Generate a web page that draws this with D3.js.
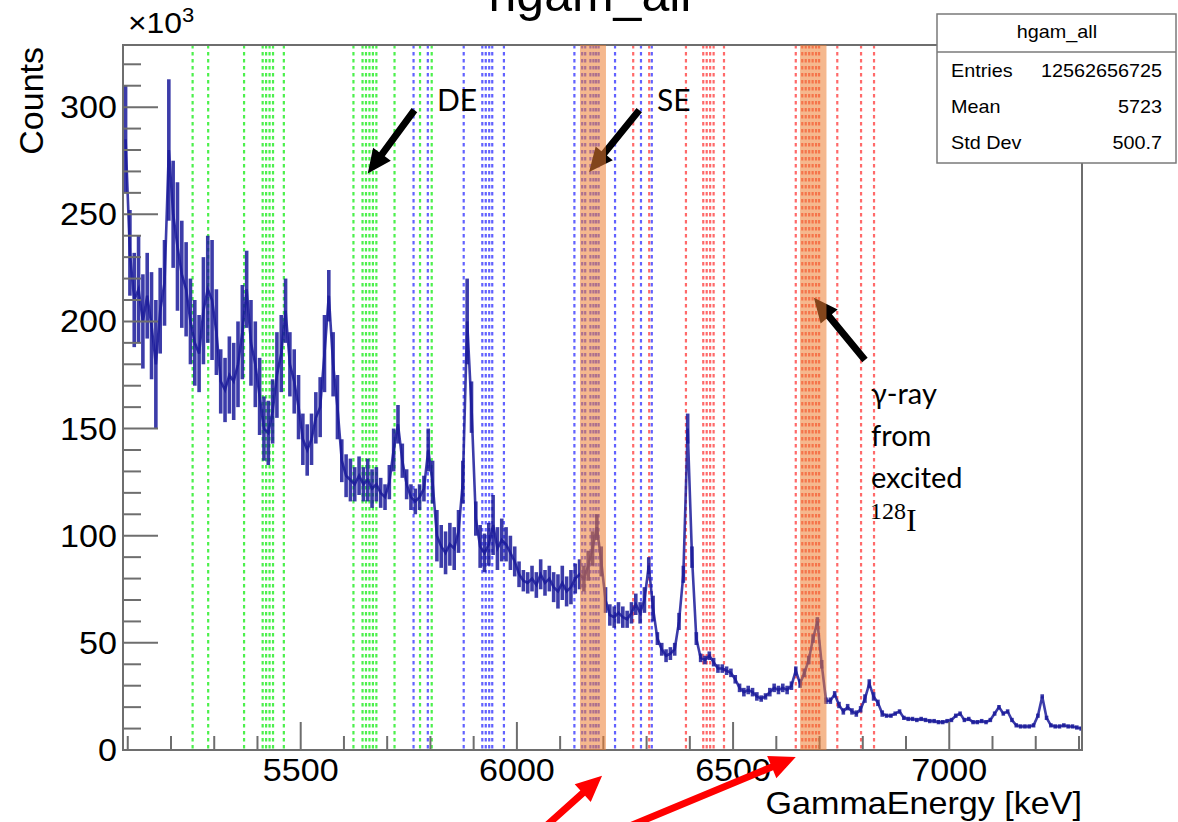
<!DOCTYPE html>
<html><head><meta charset="utf-8">
<script src="https://cdn.jsdelivr.net/npm/d3@7"></script>
<style>body{margin:0;background:#fff;} svg{display:block;}</style>
</head><body>
<script>
// ---------------- data ----------------
const binStart = 5090, binWidth = 10; // keV
const counts = [ // x10^3 counts per bin
285,232,210,215,200,212,198,180,205,218,
280,250,235,222,215,200,190,185,205,215,
210,195,172,168,175,172,180,195,215,190,
180,165,150,148,158,175,185,205,180,172,
160,145,140,145,155,160,185,212,180,160,
135,128,126,124,128,124,126,122,124,120,
118,125,140,152,135,124,118,116,118,122,
140,125,100,95,92,96,94,102,125,200,
160,108,95,92,96,105,94,98,96,92,
88,82,79,78,80,77,82,78,80,76,
74,78,74,76,80,82,80,86,94,104,
88,70,63,62,64,62,61,64,68,64,
70,86,66,52,47,44,45,47,60,82,
150,90,52,43,42,44,41,38,38,37,
36,33,29,27,28,27,25,24,25,27,
29,28,29,28,30,37,31,36,42,52,
60,40,23,23,26,21,18,20,18,17,
19,24,31,25,22,17,16,16,17,18,
15,14.5,14.5,14,14.5,14,13.5,13.5,13,13,
13.5,14,16,17,14,14.5,13,13,13.5,13,
14,17,20,17,18,14,11.5,11,11,11,
11.5,16,25,15,11.5,11,11,11.5,11,11,
10.5,10];
const spread = [ // half spread of the noisy bins, x10^3
25,20,22,25,22,20,25,30,20,20,
33,25,30,25,22,20,20,18,25,25,
28,20,15,15,18,18,20,22,18,20,
20,18,15,15,15,20,18,15,15,15,
15,12,12,12,12,14,18,12,15,15,
10,10,10,8,9,8,10,9,8,7,
6,8,10,9,8,7,6,6,6,6,
10,10,12,10,10,10,10,10,10,20,
12,8,10,9,10,14,10,10,8,8,
7,6,5,5,6,6,7,6,6,7,
8,8,7,8,7,7,6,7,8,6,
7,6,5,5,5,5,4,5,5,5,
6,4,6,3,3,3,3,3,4,4,
7,5,3,2,2,2,2,2,2,2,
2,2,2,2,2,2,2,1.5,1.5,2,
2,2,2,2,2,2,2,2,2,2,
2,2,1.5,1.5,1.5,1.5,1.5,1.5,1.5,1.5,
1.5,2,2,2,1.5,1.5,1,1,1,1,
1,1,1,1,1,1,1,1,1,1,
1,1,1,1,1,1,1,1,1,1,
1,1,1,1,1,1,1,1,1,1,
1,1,1,1,1,1,1,1,1,1,
1,1];
const greenLines = [5250,5286,5369,5412,5420,5428,5436,5461,5622,5643,5651,5659,5667,5675,5717,5776,5803];
const blueLines  = [5761,5794,5877,5920,5928,5936,5943,5970,6133,6151,6158,6170,6177,6183,6189,6227,6287,6312];
const redLines   = [6269,6306,6391,6431,6439,6447,6455,6479,6645,6660,6668,6676,6684,6692,6699,6741,6796,6826];
const bands = [[6146,6206],[6655,6716]];
const xMajor = [5500,6000,6500,7000];
const yMajor = [0,50,100,150,200,250,300];
const statsRows = [["Entries","12562656725"],["Mean","5723"],["Std Dev","500.7"]];
// annotation arrows in data coords [E1,v1,E2,v2] (tail -> tip)
const blackArrows = [[5763,298.6,5655,269],[6283,298.6,6167,269.7],[6805,182,6687,211]];
const redArrows = [[6059,-37,6197,-12],[6243,-37,6645,-3.3]];

// ---------------- layout ----------------
const W = 1178, H = 822;
const L = 123, R = 1082, T = 45, B = 750;
const svg = d3.select("body").append("svg").attr("width", W).attr("height", H);
const x = d3.scaleLinear().domain([5089, 7307]).range([L, R]);
const y = d3.scaleLinear().domain([0, 329]).range([B, T]);
const AX = "Liberation Sans, Arial, sans-serif";
const CAL = "Lato, 'Open Sans', sans-serif";
const SX = 1.1; // the source picture is slightly stretched horizontally

function stext(parent, tx, ty, size, anchor, str){
  return parent.append("text").attr("transform",`translate(${tx},${ty}) scale(${SX},1)`)
    .attr("text-anchor",anchor).attr("font-family",AX).attr("font-size",size).text(str);
}

svg.append("defs").append("clipPath").attr("id","clip")
  .append("rect").attr("x",L).attr("y",T).attr("width",R-L).attr("height",B-T);

// histogram title (mostly cut off at the top edge, as in the source picture)
svg.append("text").attr("x",590).attr("y",11).attr("text-anchor","middle")
  .attr("font-family",AX).attr("font-size",50).text("hgam_all");

// dashed lines
const dl = svg.append("g").attr("clip-path","url(#clip)");
function dashed(arr, col){
  dl.selectAll(null).data(arr).enter().append("line")
    .attr("x1", d=>x(d)).attr("x2", d=>x(d)).attr("y1", T).attr("y2", B)
    .attr("stroke", col).attr("stroke-width", 2.2).attr("stroke-dasharray","3.5,3.5");
}
dashed(greenLines, "#4cf04c");
dashed(blueLines, "#6262ff");
dashed(redLines, "#ff6a6a");

// spectrum
const bins = counts.map((c,i)=>({e: binStart + binWidth*i + binWidth/2, v:c, s:spread[i]}));
const sg = svg.append("g").attr("clip-path","url(#clip)");
const blue = "#1a1a9a";
sg.selectAll(null).data(bins).enter().append("line")
  .attr("x1", d=>x(d.e)).attr("x2", d=>x(d.e))
  .attr("y1", d=>y(d.v - d.s)).attr("y2", d=>y(d.v + d.s))
  .attr("stroke", blue).attr("stroke-width", 3.6).attr("stroke-opacity", 0.85);
sg.append("path").datum(bins)
  .attr("d", d3.line().x(d=>x(d.e)).y(d=>y(d.v)))
  .attr("fill","none").attr("stroke",blue).attr("stroke-width",2.6).attr("stroke-opacity",0.85);

// frame + ticks
const fc = "#6e6e6e";
svg.append("rect").attr("x",L).attr("y",T).attr("width",R-L).attr("height",B-T)
  .attr("fill","none").attr("stroke",fc).attr("stroke-width",2);
const xMinor = d3.range(5100, 7301, 100);
svg.selectAll(null).data(xMinor).enter().append("line")
  .attr("x1",d=>x(d)).attr("x2",d=>x(d)).attr("y1",B)
  .attr("y2",d=> xMajor.includes(d) ? B-28 : B-14)
  .attr("stroke",fc).attr("stroke-width",2);
const yMinor = d3.range(0, 321, 10);
svg.selectAll(null).data(yMinor).enter().append("line")
  .attr("y1",d=>y(d)).attr("y2",d=>y(d)).attr("x1",L)
  .attr("x2",d=> yMajor.includes(d) ? L+35 : L+18)
  .attr("stroke",fc).attr("stroke-width",2);

// tick labels
xMajor.forEach(d=>stext(svg, x(d), 781, 31, "middle", d));
yMajor.forEach(d=>stext(svg, 117, y(d)+11, 31, "end", d));
const ex = svg.append("text").attr("transform","translate(128,33) scale(1.1,1)").attr("font-family",AX).attr("font-size",29);
ex.append("tspan").text("×10");
ex.append("tspan").attr("dy",-11).attr("font-size",20).text("3");

// axis titles
stext(svg, R, 814, 31, "end", "GammaEnergy [keV]");
svg.append("text").attr("transform","translate(43,47) rotate(-90)").attr("text-anchor","end")
  .attr("font-family",AX).attr("font-size",34).text("Counts");

// arrows
function arrowPath(x1,y1,x2,y2,sw,hl,hw){
  const dx=x2-x1, dy=y2-y1, len=Math.hypot(dx,dy), ux=dx/len, uy=dy/len, px=-uy, py=ux;
  const bx=x2-ux*hl, by=y2-uy*hl;
  const p=[[x1+px*sw/2,y1+py*sw/2],[bx+px*sw/2,by+py*sw/2],[bx+px*hw/2,by+py*hw/2],[x2,y2],
           [bx-px*hw/2,by-py*hw/2],[bx-px*sw/2,by-py*sw/2],[x1-px*sw/2,y1-py*sw/2]];
  return "M"+p.map(q=>q.join(",")).join("L")+"Z";
}
svg.selectAll(null).data(blackArrows).enter().append("path")
  .attr("d", d=>arrowPath(x(d[0]),y(d[1]),x(d[2]),y(d[3]),7,24,22)).attr("fill","#000");

// bands (drawn over, semi-transparent)
svg.selectAll(null).data(bands).enter().append("rect")
  .attr("x",d=>x(d[0])).attr("width",d=>x(d[1])-x(d[0])).attr("y",T).attr("height",B-T)
  .attr("fill","#ED7D31").attr("fill-opacity",0.55);

// red arrows
svg.selectAll(null).data(redArrows).enter().append("path")
  .attr("d", d=>arrowPath(x(d[0]),y(d[1]),x(d[2]),y(d[3]),7,26,24)).attr("fill","#ff0000");

// annotation texts
svg.append("text").attr("x",437).attr("y",111).attr("font-family",CAL).attr("font-size",30).text("DE");
svg.append("text").attr("x",657).attr("y",111).attr("font-family",CAL).attr("font-size",30).text("SE");
const gl = ["γ-ray","from","excited"];
svg.selectAll(null).data(gl).enter().append("text")
  .attr("x",871).attr("y",(d,i)=>404+i*42).attr("font-family",CAL).attr("font-size",29).text(d=>d);
const iso = svg.append("text").attr("x",870).attr("y",531).attr("font-family","Liberation Serif, serif").attr("font-size",32);
iso.append("tspan").attr("dy",-12).attr("font-size",24).text("128");
iso.append("tspan").attr("dy",12).text("I");

// stats box
const sb = svg.append("g");
sb.append("rect").attr("x",937).attr("y",14).attr("width",239).attr("height",149)
  .attr("fill","#fff").attr("stroke","#7a7a7a").attr("stroke-width",1.5);
sb.append("line").attr("x1",937).attr("x2",1176).attr("y1",52).attr("y2",52).attr("stroke","#7a7a7a").attr("stroke-width",1.5);
stext(sb, 1057, 38, 18, "middle", "hgam_all");
statsRows.forEach((r,i)=>{
  stext(sb, 951, 77+i*36, 18, "start", r[0]);
  stext(sb, 1162, 77+i*36, 18, "end", r[1]);
});
</script>
</body></html>
